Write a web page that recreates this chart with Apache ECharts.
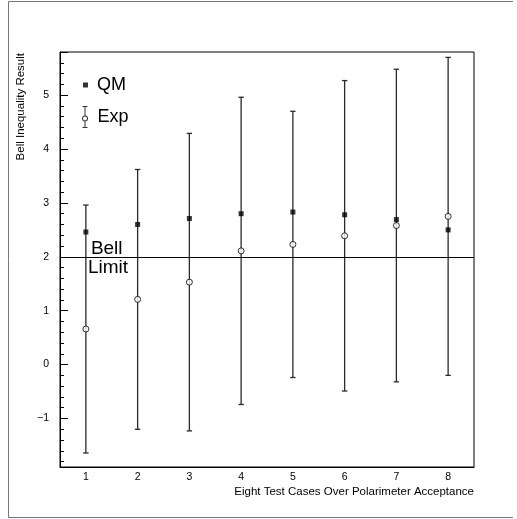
<!DOCTYPE html>
<html><head><meta charset="utf-8">
<script src="https://cdn.jsdelivr.net/npm/echarts@6/dist/echarts.min.js"></script>
<style>html,body{margin:0;padding:0;background:#fff}#c{width:517px;height:519px}</style>
</head><body><div id="c"></div><script>
// ---- data ----
const categories = ['1', '2', '3', '4', '5', '6', '7', '8'];
const qmValues = [2.46, 2.60, 2.71, 2.80, 2.83, 2.78, 2.69, 2.50];
const expValues = [0.66, 1.21, 1.53, 2.11, 2.23, 2.39, 2.58, 2.75];
const expErrors = [2.30, 2.41, 2.76, 2.85, 2.47, 2.88, 2.90, 2.95];
const bellLimit = 2;
const yMin = -1.9, yMax = 5.8;
const xTitle = 'Eight Test Cases Over Polarimeter Acceptance';
const yTitle = 'Bell Inequality Result';
const FONT = 'Liberation Sans';

const chart = echarts.init(document.getElementById('c'), null, {renderer: 'canvas'});
const errData = categories.map((c, i) => [i, expValues[i] - expErrors[i], expValues[i] + expErrors[i]]);

const option = {
  animation: false,
  backgroundColor: '#fff',
  grid: {left: 60, top: 52, width: 414, height: 415, show: true, borderColor: '#000', borderWidth: 1},
  xAxis: {
    type: 'category', data: categories, boundaryGap: true,
    axisLine: {onZero: false, lineStyle: {color: '#000', width: 1}},
    axisTick: {inside: true, alignWithLabel: true, length: 7, lineStyle: {color: '#000'}},
    axisLabel: {color: '#000', fontSize: 10.5, fontFamily: FONT, margin: 5},
    splitLine: {show: false},
    name: xTitle, nameLocation: 'end', nameGap: 0,
    nameTextStyle: {align: 'right', verticalAlign: 'top', padding: [19, 0, 0, 0], fontSize: 11.5, color: '#000', fontFamily: FONT}
  },
  yAxis: {
    type: 'value', min: yMin, max: yMax, splitNumber: 8,
    axisLine: {show: true, lineStyle: {color: '#000', width: 1}},
    axisTick: {show: true, inside: true, length: 8, lineStyle: {color: '#000'}},
    minorTick: {show: true, splitNumber: 5, length: 4, lineStyle: {color: '#000'}},
    axisLabel: {
      color: '#000', fontSize: 10.5, fontFamily: FONT, margin: 11,
      formatter: v => Math.abs(v - Math.round(v)) < 1e-6 ? (Math.round(v) < 0 ? '\u2212' + Math.abs(Math.round(v)) : String(Math.round(v))) : ''
    },
    splitLine: {show: false},
    name: yTitle, nameLocation: 'end', nameRotate: 90, nameGap: -1,
    nameTextStyle: {align: 'right', verticalAlign: 'bottom', padding: [0, 0, 33, 0], fontSize: 11.5, color: '#000', fontFamily: FONT}
  },
  legend: [
    {
      data: [{name: 'QM', icon: 'rect'}], left: 83, top: 76, padding: 0,
      itemWidth: 5, itemHeight: 5, selectedMode: false,
      itemStyle: {color: '#000', borderWidth: 0},
      textStyle: {fontSize: 18, color: '#000', fontFamily: FONT, padding: [0, 0, 0, 4]}
    },
    {
      data: [{name: 'Exp', icon: 'path://M1 0H6V1H1Z M3 1H4V9.5H3Z M3 15.5H4V21H3Z M1 21H6V22H1Z M0.5 12.5A3 3 0 1 1 6.5 12.5A3 3 0 1 1 0.5 12.5Z M1.5 12.5A2 2 0 1 0 5.5 12.5A2 2 0 1 0 1.5 12.5Z'}],
      left: 82, top: 106, padding: 0,
      itemWidth: 7, itemHeight: 22, selectedMode: false,
      itemStyle: {color: '#000', borderWidth: 0},
      textStyle: {fontSize: 18, color: '#000', fontFamily: FONT, padding: [0, 0, 0, 4]}
    }
  ],
  series: [
    {
      type: 'custom', name: 'ExpErr', data: errData, z: 2,
      encode: {x: 0, y: [1, 2]},
      renderItem: function (params, api) {
        const x = api.value(0), lo = api.value(1), hi = api.value(2);
        const pLo = api.coord([x, lo]), pHi = api.coord([x, hi]);
        const hw = 2.7;
        const st = {stroke: '#2a2a2a', lineWidth: 1.3};
        return {type: 'group', children: [
          {type: 'line', shape: {x1: pLo[0], y1: pLo[1], x2: pHi[0], y2: pHi[1]}, style: st},
          {type: 'line', shape: {x1: pLo[0] - hw, y1: pLo[1], x2: pLo[0] + hw, y2: pLo[1]}, style: st},
          {type: 'line', shape: {x1: pHi[0] - hw, y1: pHi[1], x2: pHi[0] + hw, y2: pHi[1]}, style: st}
        ]};
      }
    },
    {
      type: 'scatter', name: 'QM', data: qmValues, symbol: 'rect', symbolSize: 5, z: 3,
      itemStyle: {color: '#000'},
      markLine: {
        silent: true, symbol: ['none', 'none'], label: {show: false},
        lineStyle: {color: '#000', width: 1, type: 'solid'},
        data: [{yAxis: bellLimit}]
      }
    },
    {
      type: 'scatter', name: 'Exp', data: expValues, symbol: 'circle', symbolSize: 6, z: 4,
      itemStyle: {color: '#fff', borderColor: '#000', borderWidth: 1}
    }
  ]
};
chart.setOption(option);

const p = chart.convertToPixel({xAxisIndex: 0, yAxisIndex: 0}, [0, bellLimit]);
chart.setOption({
  graphic: [
    {type: 'polyline', silent: true, shape: {points: [[513, 1.5], [8.5, 1.5], [8.5, 517.5], [513, 517.5]]}, style: {stroke: '#777', fill: null, lineWidth: 1}},
    {type: 'text', x: p[0] + 5, y: p[1] + 1, style: {text: 'Bell', fontSize: 19, fontFamily: FONT, fill: '#000', align: 'left', verticalAlign: 'bottom'}},
    {type: 'text', x: p[0] + 2, y: p[1] + 1, style: {text: 'Limit', fontSize: 19, fontFamily: FONT, fill: '#000', align: 'left', verticalAlign: 'top'}}
  ]
});
</script></body></html>
